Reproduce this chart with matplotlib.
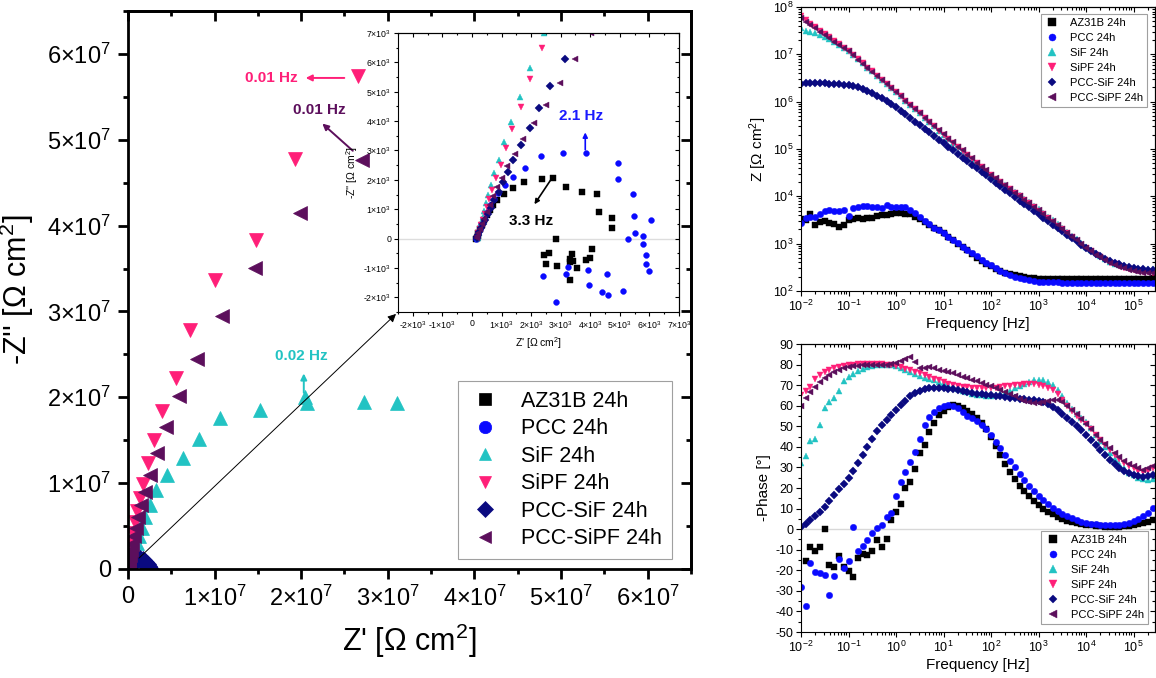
import numpy as np
import matplotlib
matplotlib.use('Agg')
import matplotlib.pyplot as plt
from matplotlib.ticker import (MultipleLocator, FuncFormatter, LogLocator,
                               NullFormatter, LogFormatterMathtext)

plt.rcParams['font.family'] = ['Liberation Sans', 'DejaVu Sans']
plt.rcParams['mathtext.fontset'] = 'custom'
plt.rcParams['mathtext.rm'] = 'Liberation Sans'
plt.rcParams['mathtext.it'] = 'Liberation Sans:italic'
plt.rcParams['mathtext.bf'] = 'Liberation Sans:bold'
plt.rcParams['axes.unicode_minus'] = False

#sample names, colours and markers
samples = ['AZ31B 24h', 'PCC 24h', 'SiF 24h', 'SiPF 24h', 'PCC-SiF 24h', 'PCC-SiPF 24h']
colors = ['#000000', '#0A0AFF', '#22C3C3', '#FF1F78', '#0A0A80', '#5C0F5C']
markers = ['s', 'o', '^', 'v', 'D', '<']

#Nyquist data, Z' and -Z'' in Ohm cm2
zre_az = [150, 170, 190, 220, 270, 330, 400, 500, 600, 720,
          850, 1080, 1380, 1760, 2360, 2750, 3190, 3730, 4230, 4280,
          4720, 4740, 2850, 2610, 2420, 2500, 2880, 3390, 3300, 3410,
          3320, 3550, 4060, 3990, 3860, 3330]
zim_az = [0, 30, 100, 200, 330, 470, 620, 800, 970, 1150,
          1330, 1510, 1730, 1920, 2030, 2050, 1760, 1580, 1530, 920,
          700, 360, 0, -490, -570, -860, -920, -520, -690, -750,
          -1420, -1000, -350, -660, -720, -810]
zre_pcc = [150, 160, 180, 210, 260, 320, 400, 500, 620, 750,
           890, 1100, 1400, 1800, 2350, 3070, 3860, 4940, 4940, 5430,
           5490, 5510, 5280, 5770, 6050, 5770, 5890, 5890, 5990, 5110,
           4600, 4410, 4580, 3940, 3920, 3260, 3180, 2850, 2410]
zim_pcc = [0, 20, 80, 180, 330, 500, 700, 900, 1130, 1350,
           1560, 1810, 2100, 2410, 2810, 2900, 2920, 2580, 2030, 1530,
           760, 190, -10, 80, 650, -180, -560, -860, -1100, -1800,
           -1930, -1830, -1190, -1570, -1080, -980, -1190, -2170, -1260]
zre_sif = [190, 200, 230, 270, 310, 360, 420, 480, 550, 630,
           740, 910, 1080, 1310, 1610, 1970, 2440,
           1e5, 2e5, 3e5, 5e5, 1.0e6, 1.3e6, 1.6e6, 2.0e6, 2.5e6, 3.2e6,
           4.5e6, 6.3e6, 8.2e6, 1.06e7, 1.53e7, 2.04e7, 2.07e7, 2.73e7, 3.11e7]
zim_sif = [20, 80, 200, 350, 520, 720, 950, 1200, 1500, 1820,
           2220, 2690, 3280, 3970, 4830, 5820, 7000,
           4e5, 9e5, 1.5e6, 2.3e6, 3.0e6, 3.8e6, 4.8e6, 6.0e6, 7.5e6, 9.2e6,
           1.09e7, 1.29e7, 1.51e7, 1.76e7, 1.85e7, 2.0e7, 1.93e7, 1.95e7, 1.93e7]
zre_sipf = [170, 190, 220, 260, 310, 370, 430, 500, 580, 680,
            820, 990, 1160, 1360, 1650, 1970, 2360,
            1e5, 2e5, 3e5, 4e5, 6e5, 8e5, 1.1e6, 1.4e6, 1.7e6, 2.3e6,
            3.0e6, 3.9e6, 5.6e6, 7.2e6, 1.0e7, 1.48e7, 1.93e7, 2.66e7]
zim_sipf = [20, 70, 180, 320, 470, 650, 850, 1080, 1350, 1670,
            2050, 2520, 3070, 3720, 4490, 5420, 6500,
            5e5, 1.2e6, 2.0e6, 3.0e6, 4.2e6, 5.5e6, 6.8e6, 8.3e6, 9.9e6, 1.23e7,
            1.50e7, 1.84e7, 2.23e7, 2.78e7, 3.37e7, 3.83e7, 4.78e7, 5.74e7]
zre_pccsif = [160, 170, 200, 250, 300, 380, 450, 550, 650, 750,
              910, 1050, 1220, 1400, 1670, 1950, 2270, 2650, 3130,
              5e4, 1e5, 2e5, 3.5e5, 5.5e5, 8e5, 1.1e6, 1.4e6,
              1.7e6, 1.95e6, 2.15e6, 2.3e6, 2.36e6, 2.38e6, 2.39e6, 2.39e6]
zim_pccsif = [20, 50, 120, 220, 350, 500, 650, 850, 1050, 1300,
              1580, 1920, 2270, 2680, 3170, 3750, 4430, 5210, 6130,
              1e5, 2e5, 4e5, 6.5e5, 9e5, 1.1e6, 1.2e6, 1.15e6,
              1.0e6, 8e5, 6e5, 4e5, 2.5e5, 1.5e5, 8e4, 4e4]
zre_pccsipf = [160, 180, 220, 270, 330, 400, 500, 600, 720, 850,
               1000, 1190, 1440, 1740, 2100, 2500, 2990, 3470, 4030,
               5e4, 8e4, 1.2e5, 1.7e5, 2.5e5, 3.5e5, 5e5, 7e5, 9e5, 1.2e6,
               1.5e6, 2.0e6, 2.5e6, 3.3e6, 4.4e6, 5.9e6, 8.0e6, 1.08e7, 1.47e7, 1.99e7,
               2.70e7]
zim_pccsipf = [20, 80, 200, 330, 500, 680, 900, 1150, 1450, 1750,
               2080, 2470, 2890, 3400, 3940, 4560, 5300, 6120, 7000,
               3e5, 6e5, 8e5, 1.1e6, 1.6e6, 2.2e6, 2.9e6, 3.8e6, 4.8e6, 6.0e6,
               7.4e6, 9.0e6, 1.10e7, 1.35e7, 1.65e7, 2.01e7, 2.45e7, 2.95e7, 3.51e7, 4.15e7,
               4.76e7]

#Bode data, measuring frequencies in Hz
freq = [1.00e-2, 1.26e-2, 1.58e-2, 2.00e-2, 2.51e-2, 3.16e-2, 3.98e-2, 5.01e-2, 6.31e-2, 7.94e-2,
        1.00e-1, 1.26e-1, 1.58e-1, 2.00e-1, 2.51e-1, 3.16e-1, 3.98e-1, 5.01e-1, 6.31e-1, 7.94e-1,
        1.00, 1.26, 1.58, 2.00, 2.51, 3.16, 3.98, 5.01, 6.31, 7.94,
        10.0, 12.6, 15.8, 20.0, 25.1, 31.6, 39.8, 50.1, 63.1, 79.4,
        100, 126, 158, 200, 251, 316, 398, 501, 631, 794,
        1.00e3, 1.26e3, 1.58e3, 2.00e3, 2.51e3, 3.16e3, 3.98e3, 5.01e3, 6.31e3, 7.94e3,
        1.00e4, 1.26e4, 1.58e4, 2.00e4, 2.51e4, 3.16e4, 3.98e4, 5.01e4, 6.31e4, 7.94e4,
        1.00e5, 1.26e5, 1.58e5, 2.00e5, 2.51e5]

#log10 of |Z| in Ohm cm2
logz_az = [3.52, 3.50, 3.62, 3.40, 3.45, 3.47, 3.44, 3.42, 3.36, 3.40,
           3.50, 3.53, 3.55, 3.53, 3.54, 3.55, 3.58, 3.60, 3.60, 3.62,
           3.64, 3.64, 3.63, 3.62, 3.57, 3.52, 3.46, 3.40, 3.34, 3.28,
           3.22, 3.15, 3.08, 3.00, 2.93, 2.86, 2.78, 2.70, 2.63, 2.57,
           2.52, 2.47, 2.43, 2.39, 2.36, 2.33, 2.31, 2.29, 2.28, 2.27,
           2.26, 2.26, 2.25, 2.25, 2.25, 2.25, 2.25, 2.25, 2.25, 2.25,
           2.25, 2.25, 2.25, 2.25, 2.25, 2.25, 2.25, 2.25, 2.25, 2.25,
           2.25, 2.26, 2.26, 2.26, 2.27]
logz_pcc = [3.43, 3.55, 3.57, 3.56, 3.62, 3.68, 3.72, 3.70, 3.68, 3.72,
            3.58, 3.76, 3.78, 3.79, 3.79, 3.78, 3.77, 3.76, 3.81, 3.78,
            3.77, 3.77, 3.78, 3.72, 3.64, 3.56, 3.48, 3.41, 3.34, 3.28,
            3.22, 3.15, 3.08, 3.01, 2.94, 2.87, 2.80, 2.73, 2.66, 2.60,
            2.54, 2.48, 2.43, 2.38, 2.34, 2.30, 2.27, 2.25, 2.23, 2.21,
            2.20, 2.19, 2.18, 2.18, 2.18, 2.17, 2.17, 2.17, 2.17, 2.17,
            2.17, 2.17, 2.17, 2.17, 2.17, 2.17, 2.17, 2.17, 2.17, 2.17,
            2.17, 2.17, 2.17, 2.17, 2.17]
logz_sif = [7.55, 7.50, 7.47, 7.45, 7.40, 7.36, 7.33, 7.27, 7.20, 7.13,
            7.06, 6.98, 6.90, 6.81, 6.72, 6.64, 6.55, 6.46, 6.38, 6.29,
            6.20, 6.11, 6.02, 5.93, 5.84, 5.75, 5.66, 5.57, 5.48, 5.39,
            5.30, 5.22, 5.13, 5.05, 4.96, 4.88, 4.79, 4.71, 4.62, 4.54,
            4.45, 4.37, 4.30, 4.23, 4.16, 4.09, 4.02, 3.95, 3.88, 3.80,
            3.73, 3.65, 3.57, 3.49, 3.41, 3.33, 3.25, 3.17, 3.09, 3.01,
            2.94, 2.87, 2.80, 2.73, 2.67, 2.62, 2.58, 2.55, 2.52, 2.50,
            2.48, 2.47, 2.46, 2.46, 2.46]
logz_sipf = [7.80, 7.73, 7.65, 7.57, 7.50, 7.43, 7.36, 7.28, 7.21, 7.14,
             7.07, 6.98, 6.90, 6.81, 6.72, 6.64, 6.55, 6.46, 6.38, 6.29,
             6.20, 6.11, 6.02, 5.93, 5.84, 5.75, 5.66, 5.57, 5.48, 5.39,
             5.30, 5.22, 5.13, 5.05, 4.96, 4.88, 4.79, 4.71, 4.62, 4.54,
             4.45, 4.37, 4.30, 4.22, 4.15, 4.07, 4.00, 3.92, 3.85, 3.77,
             3.70, 3.62, 3.54, 3.46, 3.38, 3.30, 3.22, 3.14, 3.06, 2.98,
             2.91, 2.84, 2.77, 2.71, 2.65, 2.60, 2.56, 2.52, 2.49, 2.47,
             2.45, 2.43, 2.41, 2.40, 2.39]
logz_pccsif = [6.38, 6.39, 6.39, 6.39, 6.39, 6.39, 6.38, 6.38, 6.37, 6.36,
               6.35, 6.33, 6.30, 6.27, 6.23, 6.18, 6.13, 6.08, 6.02, 5.95,
               5.88, 5.81, 5.73, 5.66, 5.58, 5.50, 5.43, 5.35, 5.27, 5.20,
               5.12, 5.04, 4.97, 4.89, 4.82, 4.74, 4.66, 4.59, 4.51, 4.44,
               4.36, 4.29, 4.21, 4.14, 4.06, 3.99, 3.91, 3.84, 3.77, 3.69,
               3.62, 3.55, 3.48, 3.40, 3.33, 3.26, 3.19, 3.12, 3.05, 2.98,
               2.91, 2.85, 2.79, 2.73, 2.68, 2.63, 2.59, 2.56, 2.53, 2.51,
               2.49, 2.47, 2.46, 2.45, 2.44]
logz_pccsipf = [7.76, 7.69, 7.62, 7.55, 7.48, 7.41, 7.34, 7.27, 7.20, 7.13,
                7.06, 6.98, 6.89, 6.80, 6.72, 6.63, 6.54, 6.46, 6.37, 6.29,
                6.20, 6.11, 6.02, 5.93, 5.84, 5.75, 5.66, 5.57, 5.48, 5.40,
                5.31, 5.22, 5.14, 5.05, 4.97, 4.88, 4.80, 4.71, 4.63, 4.55,
                4.46, 4.38, 4.30, 4.23, 4.15, 4.08, 4.00, 3.93, 3.86, 3.78,
                3.71, 3.63, 3.55, 3.47, 3.39, 3.31, 3.23, 3.15, 3.07, 2.99,
                2.91, 2.84, 2.77, 2.71, 2.65, 2.60, 2.55, 2.51, 2.48, 2.45,
                2.42, 2.40, 2.38, 2.37, 2.37]

#-phase in degrees
ph_az = [np.nan, -15.5, -8.9, -10.6, -8.7, -0.1, -17.5, -18.6, -13.1, -18.6,
         -20.4, -23.1, -13.9, -12.3, -12.6, -10.5, -5.3, -8.9, -5.0, 4.5,
         8.5, 12.2, 20.1, 23.1, 29.1, 36.8, 40.9, 47.4, 51.8, 55.5,
         57.4, 59.5, 60.3, 60.0, 59.0, 57.5, 56.0, 54.0, 51.5, 48.5,
         45.0, 40.5, 36.0, 31.5, 28.0, 24.5, 21.0, 18.5, 16.0, 13.8,
         11.7, 10.0, 8.5, 7.2, 6.0, 5.0, 4.2, 3.6, 3.0, 2.5,
         2.1, 1.8, 1.5, 1.3, 1.2, 1.2, 1.2, 1.2, 1.4, 1.7,
         2.0, 2.3, 3.0, 3.6, 4.5]
ph_pcc = [-28.0, -37.4, -16.6, -20.7, -21.2, -22.3, -32.0, -22.6, -14.5, -19.1,
          -15.5, 0.9, -10.6, -8.2, -5.3, -2.0, 0.4, 2.0, 6.0, 7.7,
          16.3, 22.7, 27.6, 32.8, 37.6, 43.8, 50.6, 54.7, 56.8, 58.7,
          60.0, 60.3, 60.0, 58.7, 57.0, 55.0, 53.9, 52.5, 50.6, 48.5,
          46.0, 42.5, 39.5, 36.0, 33.0, 30.0, 27.0, 24.0, 21.0, 18.5,
          16.0, 14.0, 12.0, 10.5, 9.0, 7.5, 6.3, 5.2, 4.3, 3.5,
          3.0, 2.6, 2.3, 2.1, 2.0, 2.0, 2.0, 2.2, 2.5, 3.0,
          3.8, 4.8, 6.2, 8.0, 10.5]
ph_sif = [32, 35.5, 43, 44, 50.5, 59, 62, 64, 67, 72,
          74, 75.5, 77, 78, 78.8, 79.3, 79.7, 80, 80, 79.8,
          79.3, 78.5, 77.5, 76.5, 75.5, 74.5, 73.7, 73, 72.3, 71.7,
          71, 70.2, 69.2, 68.2, 67.3, 66.5, 65.8, 65.3, 65, 64.8,
          64.8, 65, 65.5, 66.3, 67.3, 68.5, 69.7, 70.8, 71.7, 72.3,
          72.5, 72.3, 71.5, 70, 67.5, 64.5, 61.5, 58.5, 56, 54,
          52, 49, 46, 43, 40, 37, 34, 31.5, 29.5, 27.5,
          26.3, 25, 24.2, 24, 24.5]
ph_sipf = [65, 67, 69, 73, 75, 76.5, 77.5, 78.3, 79, 79.5,
           79.8, 80, 80.3, 80.5, 80.5, 80.5, 80.4, 80.2, 80, 79.7,
           79.3, 78.7, 78, 77.3, 76.5, 75.8, 75, 74, 73.2, 72.3,
           71.5, 70.8, 70.2, 69.7, 69.3, 69, 68.8, 68.6, 68.5, 68.5,
           68.5, 68.7, 69, 69.4, 69.7, 70, 70.2, 70.4, 70.5, 70.5,
           70.3, 69.8, 68.8, 67.5, 65.5, 63, 60, 57.5, 55, 53,
           51, 48.5, 46, 43.5, 41, 38.5, 36, 34, 32, 30.5,
           29.5, 28.5, 28, 28.5, 29.5]
ph_pccsif = [1, 2.5, 4.5, 6.5, 8.5, 11, 13.5, 16.5, 19.5, 22,
             25, 28.5, 32, 36, 40, 44, 47.5, 50.5, 53, 55.5,
             58, 60.5, 62.5, 64.5, 66, 67.3, 68.2, 68.6, 68.8, 68.8,
             68.6, 68.3, 68, 67.6, 67.2, 66.8, 66.3, 65.9, 65.5, 65.2,
             65, 64.7, 64.5, 64.2, 64, 63.8, 63.5, 63.2, 63, 62.8,
             62.5, 62, 61, 59.5, 58, 56, 54, 52, 50, 48,
             46, 43.5, 41, 38.5, 36, 33.8, 31.5, 29.8, 28.5, 27.5,
             26.5, 26, 25.5, 26, 26.5]
ph_pccsipf = [60, 64, 66.5, 69, 71.5, 73.5, 75, 76.5, 77.5, 78.2,
              78.8, 79.2, 79.5, 79.7, 79.9, 80, 80, 80, 80, 80.3,
              81, 81.8, 82.5, 83.5, 81.5, 78.5, 78.5, 78.8, 78.5, 77.5,
              77, 76.5, 76, 75, 74, 73.3, 72.5, 71.8, 71, 70.2,
              69.5, 68.5, 67.5, 66.5, 65.5, 64.5, 63.5, 62.5, 61.8, 61.5,
              61.5, 62, 62.5, 63, 62.8, 62, 60, 58, 56, 53.5,
              51, 48.5, 46, 43.5, 41.5, 39.5, 37, 35, 33, 31.5,
              30.5, 29.5, 29, 29.5, 30.5]

nyq_re = [zre_az, zre_pcc, zre_sif, zre_sipf, zre_pccsif, zre_pccsipf]
nyq_im = [zim_az, zim_pcc, zim_sif, zim_sipf, zim_pccsif, zim_pccsipf]
bode_logz = [logz_az, logz_pcc, logz_sif, logz_sipf, logz_pccsif, logz_pccsipf]
bode_ph = [ph_az, ph_pcc, ph_sif, ph_sipf, ph_pccsif, ph_pccsipf]


#Function to put inward ticks on the top and right sides of an axes
def mirror_ticks(ax, major_len, minor_len, width, log_x=False, log_y=False,
                 xmaj=None, xmin=None, ymaj=None, ymin=None):
    ax.tick_params(which='major', direction='out', length=major_len, width=width)
    ax.tick_params(which='minor', direction='out', length=minor_len, width=width)
    top = ax.secondary_xaxis('top')
    right = ax.secondary_yaxis('right')
    if log_x:
        top.xaxis.set_major_locator(LogLocator(base=10, numticks=20))
        top.xaxis.set_minor_locator(LogLocator(base=10, subs=np.arange(2, 10), numticks=20))
    else:
        top.xaxis.set_major_locator(MultipleLocator(xmaj))
        top.xaxis.set_minor_locator(MultipleLocator(xmin))
    if log_y:
        right.yaxis.set_major_locator(LogLocator(base=10, numticks=20))
        right.yaxis.set_minor_locator(LogLocator(base=10, subs=np.arange(2, 10), numticks=20))
    else:
        right.yaxis.set_major_locator(MultipleLocator(ymaj))
        right.yaxis.set_minor_locator(MultipleLocator(ymin))
    #no labels on the mirrored sides
    top.tick_params(which='both', direction='in', width=width,
                    labeltop=False, labelbottom=False)
    right.tick_params(which='both', direction='in', width=width,
                      labelright=False, labelleft=False)
    for sec in (top, right):
        sec.tick_params(which='major', length=major_len)
        sec.tick_params(which='minor', length=minor_len)
        for sp in sec.spines.values():
            sp.set_linewidth(width)
    for sp in ax.spines.values():
        sp.set_linewidth(width)


#tick label in the "n×10^k" style
def sci_label(exp):
    def f(v, pos):
        n = int(round(v / 10**exp))
        if n == 0:
            return '0'
        return '%d×10$^{%d}$' % (n, exp)
    return FuncFormatter(f)


fig = plt.figure(figsize=(11.56, 6.78), dpi=100)

#main Nyquist plot
ax = fig.add_axes([0.1107, 0.1608, 0.4870, 0.8230])
for i in range(6):
    ax.plot(nyq_re[i], nyq_im[i], linestyle='none', marker=markers[i],
            color=colors[i], ms=10.5 if markers[i] != 'D' else 9, mew=0.5,
            label=samples[i])
ax.set_xlim(0, 6.5e7)
ax.set_ylim(0, 6.5e7)
ax.xaxis.set_major_locator(MultipleLocator(1e7))
ax.xaxis.set_minor_locator(MultipleLocator(5e6))
ax.yaxis.set_major_locator(MultipleLocator(1e7))
ax.yaxis.set_minor_locator(MultipleLocator(5e6))
ax.xaxis.set_major_formatter(sci_label(7))
ax.yaxis.set_major_formatter(sci_label(7))
mirror_ticks(ax, 7, 3.5, 2, xmaj=1e7, xmin=5e6, ymaj=1e7, ymin=5e6)
ax.tick_params(labelsize=17, pad=5)
ax.set_xlabel("Z' [Ω cm$^2$]", fontsize=22, labelpad=8)
ax.set_ylabel("-Z'' [Ω cm$^2$]", fontsize=22, labelpad=8)
leg = ax.legend(loc='lower right', bbox_to_anchor=(0.966, 0.018), borderaxespad=0,
                fontsize=15.5, markerscale=0.85, frameon=True, fancybox=False,
                edgecolor='#888888', labelspacing=0.3, handletextpad=0.9,
                borderpad=0.45, handlelength=1.6)
leg.get_frame().set_linewidth(0.8)

#frequency annotations on the main plot
ax.annotate('', xy=(2.02e7, 5.72e7), xytext=(2.53e7, 5.72e7),
            arrowprops=dict(arrowstyle='-|>', color=colors[3], lw=1.4, mutation_scale=9))
ax.text(1.66e7, 5.72e7, '0.01 Hz', color=colors[3], fontsize=11, fontweight='bold',
        ha='center', va='center')
ax.annotate('', xy=(2.22e7, 5.21e7), xytext=(2.62e7, 4.85e7),
            arrowprops=dict(arrowstyle='-|>', color='#5C0F5C', lw=1.4, mutation_scale=9))
ax.text(2.21e7, 5.35e7, '0.01 Hz', color='#5C0F5C', fontsize=11, fontweight='bold',
        ha='center', va='center')
ax.annotate('', xy=(2.03e7, 2.31e7), xytext=(2.03e7, 2.02e7),
            arrowprops=dict(arrowstyle='-|>', color=colors[2], lw=1.4, mutation_scale=9))
ax.text(2.0e7, 2.48e7, '0.02 Hz', color=colors[2], fontsize=11, fontweight='bold',
        ha='center', va='center')

#inset with the high frequency region
axins = fig.add_axes([0.3443, 0.5398, 0.2431, 0.4115])
axins.axhline(0, color='#dddddd', lw=1, zorder=0)
for i in range(6):
    axins.plot(nyq_re[i], nyq_im[i], linestyle='none', marker=markers[i],
               color=colors[i], ms=4.2 if markers[i] != 'D' else 3.6, mew=0.3)
axins.set_xlim(-2.5e3, 7e3)
axins.set_ylim(-2.5e3, 7e3)
axins.xaxis.set_major_locator(MultipleLocator(1e3))
axins.xaxis.set_minor_locator(MultipleLocator(5e2))
axins.yaxis.set_major_locator(MultipleLocator(1e3))
axins.yaxis.set_minor_locator(MultipleLocator(5e2))
axins.xaxis.set_major_formatter(sci_label(3))
axins.yaxis.set_major_formatter(sci_label(3))
mirror_ticks(axins, 3, 1.6, 0.8, xmaj=1e3, xmin=5e2, ymaj=1e3, ymin=5e2)
axins.tick_params(labelsize=6.3, pad=2)
axins.set_xlabel("Z' [Ω cm$^2$]", fontsize=7.5, labelpad=3)
axins.set_ylabel("-Z'' [Ω cm$^2$]", fontsize=7.5, labelpad=2)
axins.annotate('', xy=(3.83e3, 3.71e3), xytext=(3.83e3, 2.93e3),
               arrowprops=dict(arrowstyle='-|>', color=colors[1], lw=1.2, mutation_scale=7))
axins.text(3.70e3, 4.18e3, '2.1 Hz', color='#1A1AFF', fontsize=11, fontweight='bold',
           ha='center', va='center')
axins.annotate('', xy=(2.06e3, 1.09e3), xytext=(2.71e3, 2.07e3),
               arrowprops=dict(arrowstyle='-|>', color='black', lw=1.2, mutation_scale=7))
axins.text(2.0e3, 0.61e3, '3.3 Hz', color='black', fontsize=11, fontweight='bold',
           ha='center', va='center')

#arrow linking the origin of the main plot to the inset
ax.annotate('', xy=(0, 0), xycoords=axins.transAxes, xytext=(1.05e6, 1.05e6),
            textcoords='data',
            arrowprops=dict(arrowstyle='-|>', color='black', lw=0.7, mutation_scale=12))

#Bode modulus
axz = fig.add_axes([0.6929, 0.5708, 0.3062, 0.4189])
for i in range(6):
    axz.plot(freq, 10**np.array(bode_logz[i]), linestyle='none', marker=markers[i],
             color=colors[i], ms=4.6 if markers[i] != 'D' else 4.0, mew=0.3,
             label=samples[i])
axz.set_xscale('log')
axz.set_yscale('log')
axz.set_xlim(1e-2, 10**5.45)
axz.set_ylim(1e2, 1e8)
axz.xaxis.set_major_locator(LogLocator(base=10, numticks=20))
axz.xaxis.set_minor_locator(LogLocator(base=10, subs=np.arange(2, 10), numticks=20))
axz.yaxis.set_major_locator(LogLocator(base=10, numticks=20))
axz.yaxis.set_minor_locator(LogLocator(base=10, subs=np.arange(2, 10), numticks=20))
axz.xaxis.set_major_formatter(LogFormatterMathtext())
axz.yaxis.set_major_formatter(LogFormatterMathtext())
axz.xaxis.set_minor_formatter(NullFormatter())
axz.yaxis.set_minor_formatter(NullFormatter())
mirror_ticks(axz, 3.5, 2, 0.8, log_x=True, log_y=True)
axz.tick_params(labelsize=9, pad=2)
axz.set_xlabel('Frequency [Hz]', fontsize=11, labelpad=2)
axz.set_ylabel('Z [Ω cm$^2$]', fontsize=11, labelpad=3)
leg = axz.legend(loc='upper right', bbox_to_anchor=(0.978, 0.975), borderaxespad=0,
                 fontsize=8, markerscale=1.1, frameon=True, fancybox=False,
                 edgecolor='#888888', labelspacing=0.45, handletextpad=0.9,
                 borderpad=0.35, handlelength=1.4)
leg.get_frame().set_linewidth(0.8)

#Bode phase
axp = fig.add_axes([0.6929, 0.0678, 0.3062, 0.4248])
axp.axhline(0, color='#d8d8d8', lw=1, zorder=0)
for i in range(6):
    axp.plot(freq, bode_ph[i], linestyle='none', marker=markers[i],
             color=colors[i], ms=4.6 if markers[i] != 'D' else 4.0, mew=0.3,
             label=samples[i])
axp.set_xscale('log')
axp.set_xlim(1e-2, 10**5.45)
axp.set_ylim(-50, 90)
axp.xaxis.set_major_locator(LogLocator(base=10, numticks=20))
axp.xaxis.set_minor_locator(LogLocator(base=10, subs=np.arange(2, 10), numticks=20))
axp.xaxis.set_major_formatter(LogFormatterMathtext())
axp.xaxis.set_minor_formatter(NullFormatter())
axp.yaxis.set_major_locator(MultipleLocator(10))
axp.yaxis.set_minor_locator(MultipleLocator(5))
mirror_ticks(axp, 3.5, 2, 0.8, log_x=True, ymaj=10, ymin=5)
axp.tick_params(labelsize=9, pad=2)
axp.set_xlabel('Frequency [Hz]', fontsize=11, labelpad=2)
axp.set_ylabel('-Phase [°]', fontsize=11, labelpad=3)
leg = axp.legend(loc='lower right', bbox_to_anchor=(0.98, 0.028), borderaxespad=0,
                 fontsize=8, markerscale=1.1, frameon=True, fancybox=False,
                 edgecolor='#888888', labelspacing=0.45, handletextpad=0.9,
                 borderpad=0.35, handlelength=1.4)
leg.get_frame().set_linewidth(0.8)

fig.savefig('out.png', dpi=100)
